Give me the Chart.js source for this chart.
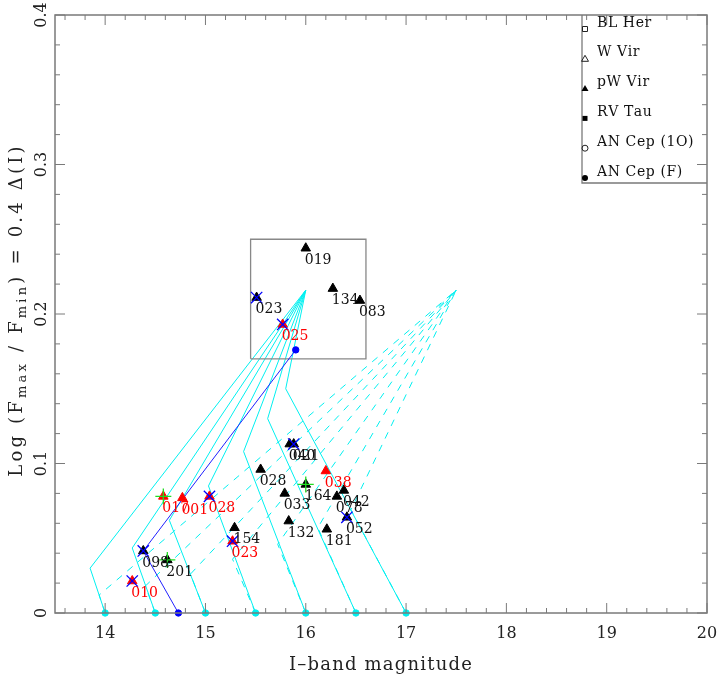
<!DOCTYPE html>
<html>
<head>
<meta charset="utf-8">
<script src="https://cdn.jsdelivr.net/npm/chart.js@4/dist/chart.umd.min.js"></script>
<style>
  html, body { margin: 0; padding: 0; background: #fff; }
</style>
</head>
<body>
<canvas id="chart" width="717" height="678"></canvas>
<script>
// model tracks: start at I = trackStart (amplitude 0), bend at a knee, run to a common apex
const trackStart = [14, 14.5, 15, 15.5, 16, 16.5, 17];
const solidKneeX = [13.85, 14.27, 14.64, 15.03, 15.38, 15.62, 15.80];
const solidKneeY = [0.030, 0.0435, 0.062, 0.085, 0.108, 0.130, 0.150];
const dashKneeX = [13.94, 14.40, 14.85, 15.27, 15.72, 16.12, 16.45];
const dashKneeY = [0.012, 0.018, 0.026, 0.036, 0.046, 0.057, 0.069];
const solidApex = [16.0, 0.216];
const dashApex = [17.5, 0.216];
const blueTrackX = [14.73, 14.38, 15.90];
const blueTrackY = [0, 0.0415, 0.176];
const boxX = [15.45, 16.6, 16.6, 15.45, 15.45];
const boxY = [0.17, 0.17, 0.25, 0.25, 0.17];

// stars
const blackNames = ["019", "134", "083", "023", "040", "021", "028", "164", "033", "042", "078", "052", "132", "181", "154", "098", "201"];
const blackX = [16.00, 16.27, 16.54, 15.51, 15.84, 15.88, 15.55, 16.00, 15.79, 16.38, 16.31, 16.41, 15.83, 16.21, 15.29, 14.38, 14.62];
const blackY = [0.244, 0.217, 0.209, 0.211, 0.113, 0.113, 0.096, 0.086, 0.080, 0.082, 0.078, 0.064, 0.0615, 0.056, 0.057, 0.0415, 0.0355];
const redNames = ["025", "038", "023", "028", "001", "017", "010"];
const redX = [15.77, 16.20, 15.27, 15.04, 14.77, 14.58, 14.27];
const redY = [0.193, 0.095, 0.048, 0.078, 0.077, 0.078, 0.0214];
const crossedBlack = ["023", "021", "052", "098"];
const crossedRed = ["025", "023", "028", "010"];
const plusBlack = ["164", "201"];
const plusRed = ["017"];

const legendNames = ["BL Her", "W Vir", "pW Vir", "RV Tau", "AN Cep (1O)", "AN Cep (F)"];
const xTicks = [14, 15, 16, 17, 18, 19, 20];
const yTicks = [0, 0.1, 0.2, 0.3, 0.4];

const CYAN = "#00f0f0";
const SERIF = "'DejaVu Serif', 'Liberation Serif', serif";

const pts = (xs, ys) => xs.map((x, i) => ({ x, y: ys[i] }));
const pick = (names, xs, ys, keep) => names.map((n, i) => keep.includes(n) ? { x: xs[i], y: ys[i] } : null).filter(Boolean);

const datasets = [];
trackStart.forEach((x0, i) => {
  datasets.push({ data: pts([x0, solidKneeX[i], solidApex[0]], [0, solidKneeY[i], solidApex[1]]), showLine: true, borderColor: CYAN, borderWidth: 1, pointRadius: 0, order: 20 });
  datasets.push({ data: pts([x0, dashKneeX[i], dashApex[0]], [0, dashKneeY[i], dashApex[1]]), showLine: true, borderColor: CYAN, borderWidth: 1, borderDash: [7, 7], pointRadius: 0, order: 20 });
});
datasets.push({ data: pts(trackStart, trackStart.map(() => 0)), pointRadius: 3.2, backgroundColor: CYAN, borderColor: CYAN, clip: false, order: 15 });
datasets.push({ data: pts(blueTrackX, blueTrackY), showLine: true, borderColor: "#2020ff", borderWidth: 1, pointRadius: [3.2, 0, 3.2], backgroundColor: "#0000ff", pointBorderColor: "#0000ff", clip: false, order: 14 });
datasets.push({ data: pts(boxX, boxY), showLine: true, borderColor: "#888", borderWidth: 1.3, pointRadius: 0, order: 16 });
datasets.push({ data: pts(blackX, blackY), pointStyle: "triangle", pointRadius: 5.5, backgroundColor: "#000", borderColor: "#000", borderWidth: 1, order: 6 });
datasets.push({ data: pts(redX, redY), pointStyle: "triangle", pointRadius: 5.5, backgroundColor: "#ff0000", borderColor: "#ff0000", borderWidth: 1, order: 6 });
datasets.push({ data: pick(blackNames, blackX, blackY, crossedBlack).concat(pick(redNames, redX, redY, crossedRed)), pointStyle: "crossRot", pointRadius: 8, borderColor: "#0000ff", borderWidth: 1.3, order: 4 });
datasets.push({ data: pick(blackNames, blackX, blackY, plusBlack).concat(pick(redNames, redX, redY, plusRed)), pointStyle: "cross", pointRadius: 8, borderColor: "#22dd22", borderWidth: 1.3, order: 5 });

// draw text one glyph at a time with extra gap (the original plot font is wide)
function spaced(ctx, text, x, y, gap) {
  for (const ch of text) {
    ctx.fillText(ch, x, y);
    x += ctx.measureText(ch).width + gap;
  }
  return x;
}
function spacedWidth(ctx, text, gap) {
  let w = 0;
  for (const ch of text) w += ctx.measureText(ch).width + gap;
  return w;
}

function starLabels(chart) {
  const { ctx, scales: { x, y } } = chart;
  ctx.save();
  ctx.font = "14px " + SERIF;
  ctx.textAlign = "left";
  ctx.textBaseline = "middle";
  const draw = (names, xs, ys, color) => names.forEach((n, i) => {
    ctx.fillStyle = color;
    ctx.fillText(n, x.getPixelForValue(xs[i]) - 1, y.getPixelForValue(ys[i]) + 12);
  });
  draw(blackNames, blackX, blackY, "#111");
  draw(redNames, redX, redY, "#ff0000");
  ctx.restore();
}

function frameAndAxes(chart) {
  const { ctx, chartArea: a, scales: { x, y } } = chart;
  ctx.save();
  ctx.strokeStyle = "#7a7a7a";
  ctx.lineWidth = 1;
  ctx.beginPath();
  for (let k = 68; k <= 100; k++) {
    const px = x.getPixelForValue(k / 5), len = k % 5 === 0 ? 10 : 5;
    ctx.moveTo(px, a.bottom); ctx.lineTo(px, a.bottom - len);
    ctx.moveTo(px, a.top); ctx.lineTo(px, a.top + len);
  }
  for (let k = 0; k <= 20; k++) {
    const py = y.getPixelForValue(k / 50), len = k % 5 === 0 ? 10 : 5;
    ctx.moveTo(a.left, py); ctx.lineTo(a.left + len, py);
    ctx.moveTo(a.right, py); ctx.lineTo(a.right - len, py);
  }
  ctx.stroke();
  ctx.lineWidth = 1.5;
  ctx.strokeRect(a.left, a.top, a.right - a.left, a.bottom - a.top);

  // tick labels
  ctx.fillStyle = "#222";
  ctx.font = "16px " + SERIF;
  ctx.textAlign = "center";
  ctx.textBaseline = "middle";
  xTicks.forEach(v => ctx.fillText(String(v), x.getPixelForValue(v), a.bottom + 21));
  yTicks.forEach(v => {
    ctx.save();
    ctx.translate(a.left - 13, y.getPixelForValue(v));
    ctx.rotate(-Math.PI / 2);
    ctx.fillText(String(v), 0, 0);
    ctx.restore();
  });

  // axis titles
  ctx.textAlign = "left";
  ctx.font = "18px " + SERIF;
  const xt = "I\u2013band magnitude";
  spaced(ctx, xt, (a.left + a.right) / 2 - spacedWidth(ctx, xt, 1.2) / 2, a.bottom + 52, 1.2);

  ctx.save();
  ctx.translate(17, 310);
  ctx.rotate(-Math.PI / 2);
  const parts = [["Log (F", 0], ["max", 1], [" / F", 0], ["min", 1], [") = 0.4 \u0394(I)", 0]];
  const fontFor = s => (s ? "13px " : "18px ") + SERIF;
  const gap = 3.2;
  let total = 0;
  parts.forEach(([t, s]) => { ctx.font = fontFor(s); total += spacedWidth(ctx, t, gap); });
  let cx = -total / 2;
  parts.forEach(([t, s]) => {
    ctx.font = fontFor(s);
    cx = spaced(ctx, t, cx, s ? 6 : 0, gap);
  });
  ctx.restore();

  // legend box
  const lx = a.right - 125, ly = a.top, lb = a.top + 168;
  ctx.strokeStyle = "#7a7a7a";
  ctx.lineWidth = 1.3;
  ctx.beginPath();
  ctx.moveTo(lx, ly); ctx.lineTo(lx, lb); ctx.lineTo(a.right, lb);
  ctx.stroke();
  ctx.font = "14px " + SERIF;
  ctx.fillStyle = "#111";
  ctx.strokeStyle = "#222";
  ctx.lineWidth = 1;
  legendNames.forEach((name, i) => {
    const sy = ly + 14 + i * 29.8, sx = lx + 3;
    spaced(ctx, name, lx + 15, sy - 6, 0.6);
    ctx.beginPath();
    if (i === 0 || i === 3) { ctx.rect(sx - 2.5, sy - 2.5, 5, 5); }
    else if (i === 1 || i === 2) { ctx.moveTo(sx, sy - 3.5); ctx.lineTo(sx + 3.5, sy + 2.5); ctx.lineTo(sx - 3.5, sy + 2.5); ctx.closePath(); }
    else { ctx.arc(sx, sy, 3, 0, Math.PI * 2); }
    if (i === 2 || i === 3 || i === 5) { ctx.fillStyle = "#000"; ctx.fill(); ctx.fillStyle = "#111"; }
    else ctx.stroke();
  });
  ctx.restore();
}

new Chart(document.getElementById("chart"), {
  type: "scatter",
  data: { datasets },
  options: {
    responsive: false,
    animation: false,
    layout: { padding: { left: 55, right: 10, top: 15, bottom: 65 } },
    scales: {
      x: { type: "linear", min: 13.5, max: 20, display: false },
      y: { type: "linear", min: 0, max: 0.4, display: false }
    },
    plugins: { legend: { display: false }, tooltip: { enabled: false } }
  },
  plugins: [{ id: "decor", afterDatasetsDraw: starLabels, afterDraw: frameAndAxes }]
});
</script>
</body>
</html>
